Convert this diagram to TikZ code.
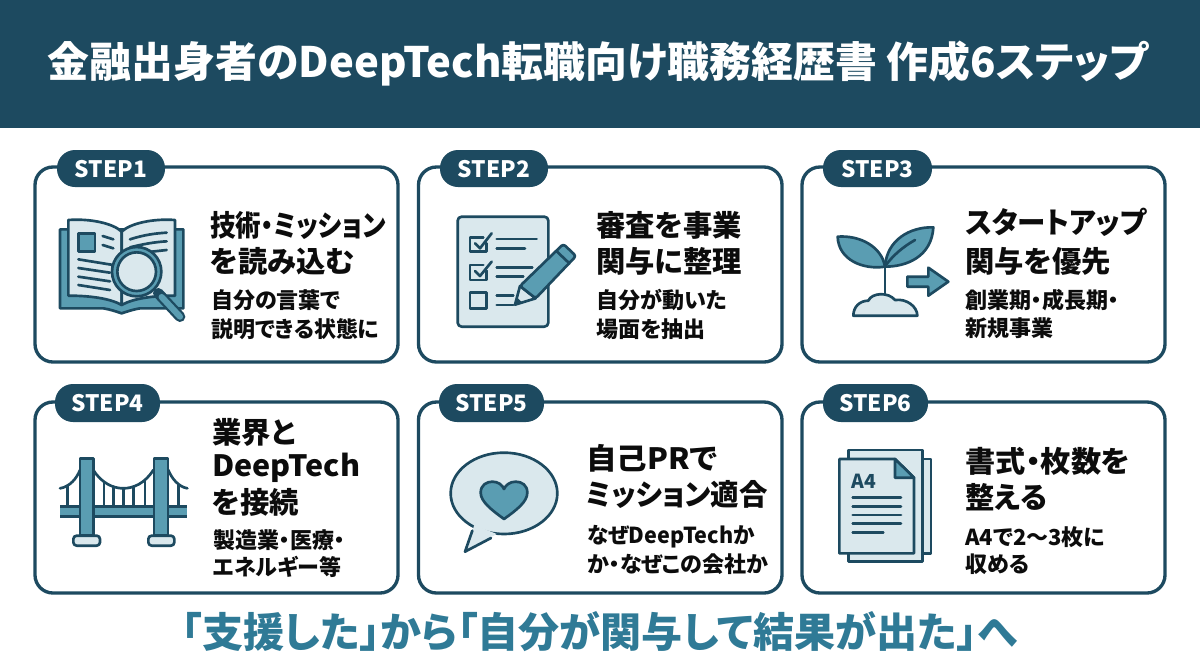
\documentclass[tikz,border=0pt]{standalone}
\usepackage{graphicx}
\usepackage{fontspec}
\setmainfont{Noto Sans CJK JP}[RawFeature={+palt}]
\definecolor{dk}{HTML}{1D4A60}
\definecolor{md}{HTML}{5A9DB2}
\definecolor{lt}{HTML}{DAE8ED}
\definecolor{tl}{HTML}{2F7A96}
\definecolor{ink}{HTML}{0C0C0C}
\newcommand\fpt[1]{\fontsize{#1pt}{#1pt}\selectfont}
\newcommand\sx[2]{\scalebox{#1}[1]{#2}}
\tikzset{
 card/.style={draw=dk,line width=2.5pt,fill=white,rounded corners=13.5pt},
 pill/.style={fill=dk,rounded corners=13.5pt},
 steplab/.style={text=white,font=\bfseries\fpt{17},inner sep=0pt},
 head/.style={anchor=base west,inner sep=0pt,text=ink,font=\bfseries\fpt{22}},
 sub/.style={anchor=base west,inner sep=0pt,text=ink,font=\bfseries\fpt{16.5}},
 ic/.style={draw=dk,line width=2pt,line join=round,line cap=round},
 icon/.style={x=0.25pt,y=-0.25pt},
}
\begin{document}
\begin{tikzpicture}[x=0.75pt,y=-0.75pt]
\useasboundingbox (0,0) rectangle (1200,669);
\fill[white] (0,0) rectangle (1200,669);
\fill[dk] (0,0) rectangle (1200,128);
\node[inner sep=0pt,text=white,font=\bfseries\fpt{31.4}] (title) at (598,64) {金融出身者のDeepTech転職向け職務経歴書 作成6ステップ};
% cards
\draw[card] (35,167) rectangle (398,362);
\draw[card] (418.5,167) rectangle (782,362);
\draw[card] (802,167) rectangle (1165,362);
\draw[card] (35,402) rectangle (398,593);
\draw[card] (418.5,402) rectangle (782,593);
\draw[card] (802,402) rectangle (1165,593);
% pills
\fill[pill] (57,150) rectangle (165,187);
\fill[pill] (440,150) rectangle (548,187);
\fill[pill] (823,150) rectangle (932,187);
\fill[pill] (55,384) rectangle (160,422);
\fill[pill] (439,384) rectangle (544,422);
\fill[pill] (823,384) rectangle (928,422);
\node[steplab] (s1) at (111,169) {STEP1};
\node[steplab] (s2) at (494,169) {STEP2};
\node[steplab] (s3) at (877.5,169) {STEP3};
\node[steplab] (s4) at (107.5,403) {STEP4};
\node[steplab] (s5) at (491.5,403) {STEP5};
\node[steplab] (s6) at (875.5,403) {STEP6};
% text
\node[head] (h1a) at (210,236) {\sx{0.87}{技術・ミッション}};
\node[head] (h1b) at (210,272.5) {を読み込む};
\node[sub] (t1a) at (211,308) {自分の言葉で};
\node[sub] (t1b) at (211,337) {説明できる状態に};
\node[head] (h2a) at (596,236) {審査を事業};
\node[head] (h2b) at (596,272) {関与に整理};
\node[sub] (t2a) at (596,308) {自分が動いた};
\node[sub] (t2b) at (596,337) {場面を抽出};
\node[head] (h3a) at (965,233) {\sx{0.97}{スタートアップ}};
\node[head] (h3b) at (965,272) {関与を優先};
\node[sub] (t3a) at (965,308) {創業期・成長期・};
\node[sub] (t3b) at (965,336) {新規事業};
\node[head] (h4a) at (212,443) {業界と};
\node[head] (h4b) at (212,476) {\sx{1.04}{DeepTech}};
\node[head] (h4c) at (212,513) {を接続};
\node[sub] (t4a) at (213,548) {製造業・医療・};
\node[sub] (t4b) at (213,575) {エネルギー等};
\node[head] (h5a) at (586,469) {\sx{1.04}{自己PRで}};
\node[head] (h5b) at (586,505) {\sx{0.97}{ミッション適合}};
\node[sub] (t5a) at (587,543) {\sx{0.98}{なぜDeepTechか}};
\node[sub] (t5b) at (587,572) {か・なぜこの会社か};
\node[head] (h6a) at (965,472) {\sx{1.03}{書式・枚数を}};
\node[head] (h6b) at (965,508) {整える};
\node[sub] (t6a) at (965,545) {A4で2〜3枚に};
\node[sub] (t6b) at (965,572) {収める};
\node[inner sep=0pt,text=tl,font=\bfseries\fpt{30.8}] (foot) at (599.5,632) {「支援した」から「自分が関与して結果が出た」へ};
% icon 1 book
\begin{scope}[shift={(30,150)},icon]
\draw[ic,fill=md] (90,238) -- (460,238) -- (460,475) -- (330,475) .. controls (310,478) and (290,485) .. (275,490) .. controls (260,485) and (240,478) .. (220,475) -- (90,475) -- cycle;
\draw[ic,fill=lt] (115,210) .. controls (180,205) and (250,220) .. (275,245) -- (275,465) .. controls (240,445) and (180,437) .. (115,437) -- cycle;
\draw[ic,fill=lt] (435,210) .. controls (370,205) and (300,220) .. (275,245) -- (275,465) .. controls (310,445) and (370,437) .. (435,437) -- cycle;
\draw[ic,fill=md] (145,250) rectangle (195,305);
\draw[ic] (218,258) -- (250,268);
\draw[ic] (218,285) -- (250,295);
\draw[ic] (145,328) -- (250,345);
\draw[ic] (145,354) -- (240,368);
\draw[ic] (145,380) -- (240,394);
\draw[ic] (145,405) -- (240,420);
\draw[ic] (300,268) .. controls (340,255) and (375,250) .. (410,248);
\draw[ic] (300,292) .. controls (340,282) and (375,276) .. (410,274);
\draw[ic] (320,310) -- (410,300);
\draw[dk,line width=8pt,line cap=round] (385,430) -- (450,500);
\draw[md,line width=4.6pt,line cap=round] (395,441) -- (450,500);
\draw[ic,fill=md] (320,365) circle (74);
\draw[ic,fill=lt] (320,365) circle (58);
\end{scope}
% icon 2 checklist
\begin{scope}[shift={(415,150)},icon]
\draw[ic,fill=lt,rounded corners=3pt] (128,200) rectangle (400,530);
\draw[ic] (215,280) -- (215,305) -- (165,305) -- (165,262) -- (205,262);
\draw[ic] (180,280) -- (195,295) -- (230,250);
\draw[ic] (215,362) -- (215,390) -- (165,390) -- (165,345) -- (205,345);
\draw[ic] (180,363) -- (195,378) -- (230,335);
\draw[ic] (165,428) rectangle (215,475);
\draw[ic] (245,267) -- (365,267);
\draw[ic] (245,295) -- (330,295);
\draw[ic] (245,352) -- (352,352);
\draw[ic] (245,380) -- (325,380);
\draw[ic] (245,437) -- (295,437);
\draw[ic] (245,465) -- (295,465);
\draw[ic,fill=lt] (315,408) -- (300,464) -- (362,445) -- cycle;
\fill[dk] (300,464) -- (306,442) -- (322,458) -- cycle;
\draw[ic,fill=md,rounded corners=2pt] (315,408) -- (445,282) -- (483,318) -- (362,445) -- cycle;
\draw[ic] (424,303) -- (463,340);
\end{scope}
% icon 3 sprout
\begin{scope}[shift={(800,150)},icon]
\draw[ic] (255,350) -- (255,432);
\draw[ic,fill=md] (113,260) .. controls (180,255) and (245,290) .. (255,350) .. controls (190,360) and (115,330) .. (113,260) -- cycle;
\draw[ic,fill=md] (400,232) .. controls (330,230) and (260,270) .. (255,350) .. controls (320,350) and (395,320) .. (400,232) -- cycle;
\draw[ic] (258,345) .. controls (280,315) and (310,290) .. (345,270);
\draw[ic,fill=lt] (160,497) .. controls (160,470) and (180,452) .. (205,452) .. controls (215,428) and (265,425) .. (285,450) .. controls (320,445) and (352,470) .. (352,497) -- cycle;
\draw[ic,fill=md] (322,380) -- (385,380) -- (385,353) -- (445,395) -- (385,437) -- (385,410) -- (322,410) -- cycle;
\end{scope}
% icon 4 bridge
\begin{scope}[shift={(30,380)},icon]
\draw[ic] (113,316) -- (113,385);
\draw[ic] (222,305) -- (222,385);
\draw[ic] (250,320) -- (250,385);
\draw[ic] (280,325) -- (280,385);
\draw[ic] (310,320) -- (310,385);
\draw[ic] (345,300) -- (345,385);
\draw[ic] (445,316) -- (445,385);
\draw[ic] (190,270) .. controls (215,310) and (250,325) .. (280,325) .. controls (310,325) and (345,310) .. (370,270);
\draw[ic] (90,325) .. controls (120,320) and (140,295) .. (150,270);
\draw[ic] (415,270) .. controls (425,295) and (445,320) .. (472,325);
\fill[md] (90,382) rectangle (472,408);
\draw[dk,line width=2pt] (90,380) -- (472,380) (90,410) -- (472,410);
\draw[ic,fill=md] (150,235) rectangle (190,465);
\draw[ic,fill=md] (372,235) rectangle (414,465);
\draw[ic,fill=lt,rounded corners=2.5pt] (130,467) rectangle (210,497);
\draw[ic,fill=lt,rounded corners=2.5pt] (355,467) rectangle (433,497);
\end{scope}
% icon 5 bubble
\begin{scope}[shift={(415,380)},icon]
\draw[ic,fill=lt] (267,340) ellipse [x radius=160,y radius=122];
\fill[lt] (178,435) -- (150,515) -- (245,462) -- cycle;
\draw[ic] (172,452) -- (150,515) -- (228,474);
\draw[ic,fill=md] (267,417) .. controls (230,390) and (197,365) .. (197,338) .. controls (197,315) and (215,305) .. (232,305) .. controls (250,305) and (262,315) .. (267,327) .. controls (272,315) and (285,305) .. (302,305) .. controls (320,305) and (337,315) .. (337,338) .. controls (337,365) and (305,390) .. (267,417) -- cycle;
\end{scope}
% icon 6 documents
\begin{scope}[shift={(800,380)},icon]
\draw[ic,fill=lt] (368,237) rectangle (393,520);
\draw[ic,fill=lt] (145,210) rectangle (368,545);
\draw[ic,fill=lt] (118,237) -- (285,237) -- (342,293) -- (342,520) -- (118,520) -- cycle;
\draw[ic,fill=md] (285,237) -- (285,293) -- (342,293) -- cycle;
\node[anchor=base west,inner sep=0pt,text=dk,font=\bfseries\fpt{14.5}] (a4) at (153,326) {A4};
\draw[ic] (158,353) -- (303,353);
\draw[ic] (158,379) -- (303,379);
\draw[ic] (158,405) -- (303,405);
\draw[ic] (158,431) -- (303,431);
\draw[ic] (158,457) -- (250,457);
\end{scope}
\end{tikzpicture}
\end{document}
